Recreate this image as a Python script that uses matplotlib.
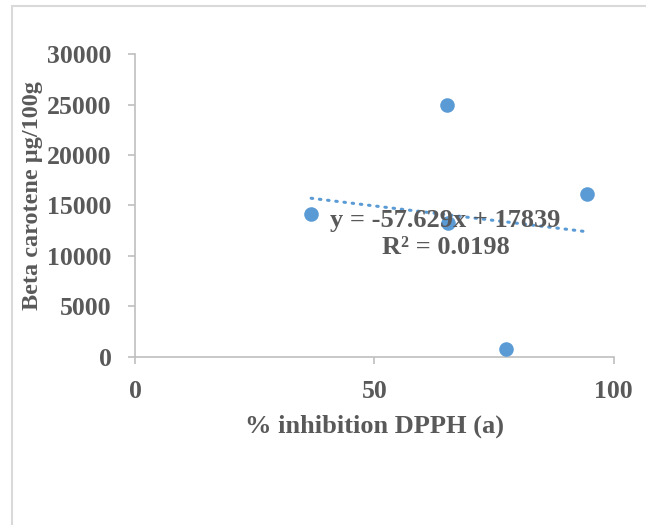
import matplotlib
matplotlib.use('Agg')
import matplotlib.pyplot as plt
import numpy as np

# data
inhibition = [36.8, 65.1, 65.3, 77.4, 94.4]
beta_carotene = [14150, 24920, 13260, 800, 16150]

# Excel trendline as shown on the chart
slope = -57.629
intercept = 17839
r_squared = 0.0198

x_ticks = [0, 50, 100]
y_ticks = [0, 5000, 10000, 15000, 20000, 25000, 30000]

blue = '#5B9BD5'
grey_text = '#595959'
grey_axis = '#BFBFBF'

plt.rcParams['font.family'] = ['Liberation Serif', 'DejaVu Serif']
plt.rcParams['font.weight'] = 'bold'

fig = plt.figure(figsize=(6.46, 5.25), dpi=100)

# chart area border (only top and left edges fall inside the picture)
border = plt.Rectangle((12 / 646, -0.1), 1.2, 1.1 - 6 / 525,
                       transform=fig.transFigure, fill=False,
                       edgecolor='#D9D9D9', linewidth=1.5)
fig.patches.append(border)

ax = fig.add_axes([0.209, 0.3206, 0.741, 0.576])
ax.scatter(inhibition, beta_carotene, s=110, color=blue, zorder=3, linewidths=0)

xs = np.array([min(inhibition), max(inhibition)])
ax.plot(xs, slope * xs + intercept, color=blue, linewidth=2.2,
        linestyle=(0, (0.5, 2.2)), dash_capstyle='round', zorder=2)

eq = f'y = {slope}x + {intercept}\nR\u00b2 = {r_squared}'
ax.text(64.9, 12150, eq, ha='center', va='center', fontsize=19,
        color=grey_text, fontweight='bold', linespacing=1.2, zorder=4)

ax.set_xlim(0, 100)
ax.set_ylim(0, 30000)
ax.set_xticks(x_ticks)
ax.set_yticks(y_ticks)

for side in ['top', 'right']:
    ax.spines[side].set_visible(False)
for side in ['left', 'bottom']:
    ax.spines[side].set_color(grey_axis)
    ax.spines[side].set_linewidth(1.2)

ax.tick_params(axis='both', direction='out', length=5, width=1.2,
               color=grey_axis, labelcolor=grey_text, labelsize=18.5)
ax.tick_params(axis='x', pad=12)
ax.tick_params(axis='y', pad=12)

ax.set_xlabel('% inhibition DPPH (a)', fontsize=19, color=grey_text,
              fontweight='bold', labelpad=8)
ax.set_ylabel('Beta carotene \u00b5g/100g', fontsize=17.5, color=grey_text,
              fontweight='bold')
ax.yaxis.set_label_coords(-0.192, 0.533)

fig.savefig('out.png', dpi=100)
